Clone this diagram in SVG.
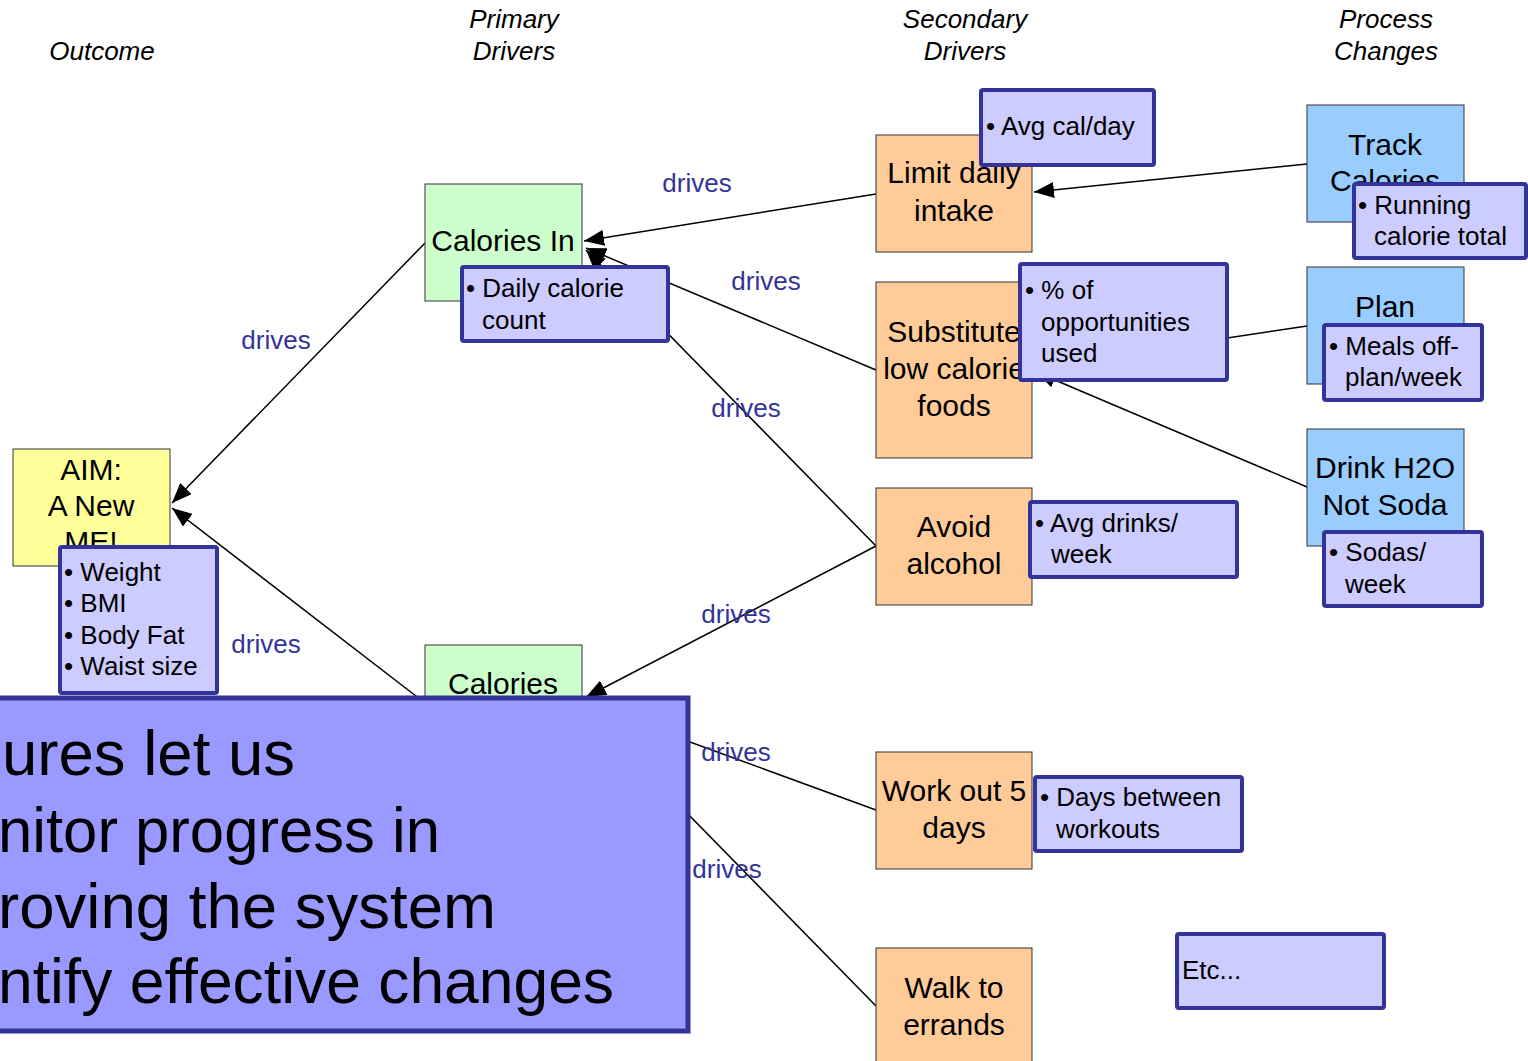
<svg xmlns="http://www.w3.org/2000/svg" width="1528" height="1061" viewBox="0 0 1528 1061">
  <style>
    text { font-family: "Liberation Sans", Arial, sans-serif; fill: #000; }
    .hdr { font-size: 26px; font-style: italic; text-anchor: middle; }
    .nt { font-size: 30px; text-anchor: middle; }
    .mt { font-size: 26px; }
    .lbl { font-size: 26px; fill: #333399; text-anchor: middle; }
    .big { font-size: 63px; }
    .aim { fill: #FFFF99; stroke: #333; stroke-width: 1; }
    .pri { fill: #CCFFCC; stroke: #333; stroke-width: 1; }
    .sec { fill: #FFCC99; stroke: #333; stroke-width: 1; }
    .proc { fill: #99CCFF; stroke: #333; stroke-width: 1; }
    .meas { fill: #CCCCFF; stroke: #333399; stroke-width: 4; }
    .edge { stroke: #000; stroke-width: 1.5; fill: none; marker-end: url(#arrow); }
  </style>
  <defs>
    <marker id="arrow" viewBox="0 0 20 16" refX="20" refY="8" markerWidth="20" markerHeight="16" markerUnits="userSpaceOnUse" orient="auto">
      <path d="M0,0 L20,8 L0,16 Z" fill="#000"/>
    </marker>
  </defs>

  <rect width="1528" height="1061" fill="#fff"/>

  <!-- column headings -->
  <g id="headers">
    <text class="hdr" x="102" y="60">Outcome</text>
    <text class="hdr" x="514" y="28">Primary</text>
    <text class="hdr" x="514" y="60">Drivers</text>
    <text class="hdr" x="965" y="28">Secondary</text>
    <text class="hdr" x="965" y="60">Drivers</text>
    <text class="hdr" x="1386" y="28">Process</text>
    <text class="hdr" x="1386" y="60">Changes</text>
  </g>

  <!-- connectors -->
  <g id="connectors">
    <line class="edge" x1="425" y1="243" x2="172" y2="503"/>
    <line class="edge" x1="425" y1="703" x2="172" y2="508"/>
    <line class="edge" x1="876" y1="194" x2="584" y2="241"/>
    <line class="edge" x1="876" y1="370" x2="586" y2="248"/>
    <line class="edge" x1="876" y1="546" x2="586" y2="250"/>
    <line class="edge" x1="876" y1="546" x2="586" y2="697"/>
    <line class="edge" x1="876" y1="810" x2="586" y2="704"/>
    <line class="edge" x1="876" y1="1006" x2="586" y2="710"/>
    <line class="edge" x1="1307" y1="164" x2="1034" y2="192"/>
    <line class="edge" x1="1307" y1="326" x2="1034" y2="367"/>
    <line class="edge" x1="1307" y1="487" x2="1036" y2="372"/>
    <text class="lbl" x="697" y="192">drives</text>
    <text class="lbl" x="766" y="290">drives</text>
    <text class="lbl" x="276" y="349">drives</text>
    <text class="lbl" x="746" y="417">drives</text>
    <text class="lbl" x="266" y="653">drives</text>
    <text class="lbl" x="736" y="623">drives</text>
    <text class="lbl" x="736" y="761">drives</text>
    <text class="lbl" x="727" y="878">drives</text>
  </g>

  <!-- outcome -->
  <g id="aim">
    <rect class="aim" x="13" y="449" width="157" height="117"/>
    <text class="nt" x="91" y="480">AIM:</text>
    <text class="nt" x="91" y="516">A New</text>
    <text class="nt" x="91" y="552">ME!</text>
  </g>

  <!-- primary drivers -->
  <g id="calories-in">
    <rect class="pri" x="425" y="184" width="157" height="117"/>
    <text class="nt" x="503" y="251">Calories In</text>
  </g>
  <g id="calories-out">
    <rect class="pri" x="425" y="645" width="157" height="117"/>
    <text class="nt" x="503" y="694">Calories</text>
  </g>

  <!-- secondary drivers -->
  <g id="limit-intake">
    <rect class="sec" x="876" y="135" width="156" height="117"/>
    <text class="nt" x="954" y="183">Limit daily</text>
    <text class="nt" x="954" y="221">intake</text>
  </g>
  <g id="substitute">
    <rect class="sec" x="876" y="282" width="156" height="176"/>
    <text class="nt" x="954" y="342">Substitute</text>
    <text class="nt" x="954" y="379">low calorie</text>
    <text class="nt" x="954" y="416">foods</text>
  </g>
  <g id="avoid-alcohol">
    <rect class="sec" x="876" y="488" width="156" height="117"/>
    <text class="nt" x="954" y="537">Avoid</text>
    <text class="nt" x="954" y="574">alcohol</text>
  </g>
  <g id="work-out">
    <rect class="sec" x="876" y="752" width="156" height="117"/>
    <text class="nt" x="954" y="801">Work out 5</text>
    <text class="nt" x="954" y="838">days</text>
  </g>
  <g id="walk">
    <rect class="sec" x="876" y="948" width="156" height="117"/>
    <text class="nt" x="954" y="998">Walk to</text>
    <text class="nt" x="954" y="1035">errands</text>
  </g>

  <!-- process changes -->
  <g id="track-calories">
    <rect class="proc" x="1307" y="105" width="157" height="117"/>
    <text class="nt" x="1385" y="155">Track</text>
    <text class="nt" x="1385" y="191">Calories</text>
  </g>
  <g id="plan">
    <rect class="proc" x="1307" y="267" width="157" height="117"/>
    <text class="nt" x="1385" y="317">Plan</text>
  </g>
  <g id="drink-water">
    <rect class="proc" x="1307" y="429" width="157" height="117"/>
    <text class="nt" x="1385" y="478">Drink H2O</text>
    <text class="nt" x="1385" y="515">Not Soda</text>
  </g>

  <!-- measures -->
  <g id="m-outcome">
    <rect class="meas" x="60" y="547" width="157" height="146" rx="2"/>
    <text class="mt" x="64" y="581">• Weight</text>
    <text class="mt" x="64" y="612">• BMI</text>
    <text class="mt" x="64" y="644">• Body Fat</text>
    <text class="mt" x="64" y="675">• Waist size</text>
  </g>
  <g id="m-calories-in">
    <rect class="meas" x="462" y="267" width="206" height="74" rx="2"/>
    <text class="mt" x="466" y="297">• Daily calorie</text>
    <text class="mt" x="482" y="329">count</text>
  </g>
  <g id="m-limit">
    <rect class="meas" x="981" y="90" width="173" height="75" rx="2"/>
    <text class="mt" x="986" y="135">• Avg cal/day</text>
  </g>
  <g id="m-substitute">
    <rect class="meas" x="1020" y="264" width="207" height="116" rx="2"/>
    <text class="mt" x="1025" y="299">• % of</text>
    <text class="mt" x="1041" y="331">opportunities</text>
    <text class="mt" x="1041" y="362">used</text>
  </g>
  <g id="m-alcohol">
    <rect class="meas" x="1030" y="502" width="207" height="75" rx="2"/>
    <text class="mt" x="1035" y="532">• Avg drinks/</text>
    <text class="mt" x="1051" y="563">week</text>
  </g>
  <g id="m-workout">
    <rect class="meas" x="1035" y="777" width="207" height="74" rx="2"/>
    <text class="mt" x="1040" y="806">• Days between</text>
    <text class="mt" x="1056" y="838">workouts</text>
  </g>
  <g id="m-track">
    <rect class="meas" x="1354" y="184" width="172" height="74" rx="2"/>
    <text class="mt" x="1358" y="214">• Running</text>
    <text class="mt" x="1374" y="245">calorie total</text>
  </g>
  <g id="m-plan">
    <rect class="meas" x="1324" y="325" width="158" height="75" rx="2"/>
    <text class="mt" x="1329" y="355">• Meals off-</text>
    <text class="mt" x="1345" y="386">plan/week</text>
  </g>
  <g id="m-drink">
    <rect class="meas" x="1324" y="532" width="158" height="74" rx="2"/>
    <text class="mt" x="1329" y="561">• Sodas/</text>
    <text class="mt" x="1345" y="593">week</text>
  </g>
  <g id="etc">
    <rect class="meas" x="1177" y="934" width="207" height="74" rx="2"/>
    <text class="mt" x="1182" y="979">Etc...</text>
  </g>

  <!-- callout -->
  <g id="callout">
    <rect x="-10" y="698" width="698" height="333" fill="#9999FF" stroke="#333399" stroke-width="5"/>
    <text class="big" x="2" y="775" textLength="293" lengthAdjust="spacingAndGlyphs">ures let us</text>
    <text class="big" x="-2" y="852" textLength="442" lengthAdjust="spacingAndGlyphs">nitor progress in</text>
    <text class="big" x="-2" y="928" textLength="498" lengthAdjust="spacingAndGlyphs">roving the system</text>
    <text class="big" x="-2" y="1003" textLength="616" lengthAdjust="spacingAndGlyphs">ntify effective changes</text>
  </g>
</svg>
